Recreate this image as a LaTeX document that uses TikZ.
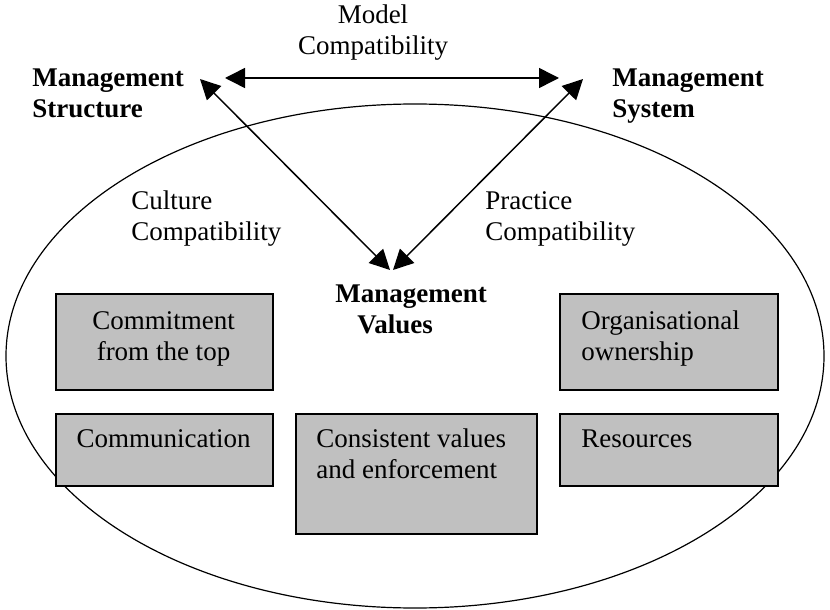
\documentclass[tikz,border=0pt]{standalone}
\usepackage{fontspec}
\setmainfont{Liberation Serif}
\usetikzlibrary{arrows.meta,shapes.geometric}
\definecolor{boxgray}{RGB}{192,192,192}
\begin{document}
\begin{tikzpicture}[x=0.5pt,y=-0.5pt,
  txt/.style={font=\fontsize{13.5}{15.5}\selectfont, inner sep=0pt, align=left},
  bold/.style={txt, font=\fontsize{13.5}{15.5}\selectfont\bfseries},
  card/.style={draw, line width=0.75pt, fill=boxgray, inner sep=0pt, anchor=north west},
  link/.style={line width=0.75pt, {Triangle[length=10pt,width=10pt]}-{Triangle[length=10pt,width=10pt]}},
]
\useasboundingbox (0,0) rectangle (830,610);

% outer ellipse holding the management values
\node[draw, ellipse, line width=0.6pt, minimum width=409pt, minimum height=252pt, inner sep=0pt] (scope) at (415,356) {};

% the three management corners (base anchor = last line)
\node[bold, anchor=base west] (struct) at (32,118) {Management\\Structure};
\node[bold, anchor=base west] (system) at (612,118) {Management\\System};
\node[bold, anchor=base west] (values) at (335,333) {Management\\\hspace*{11pt}Values};

% compatibility labels
\node[txt, align=center, anchor=base] (model) at (373,55) {Model\\Compatibility};
\node[txt, anchor=base west] (culture) at (131,240) {Culture\\Compatibility};
\node[txt, anchor=base west] (practice) at (485,240) {Practice\\Compatibility};

% grey boxes
\node[card, minimum width=108.5pt, minimum height=48pt] (commit) at (55,293) {};
\node[card, minimum width=108.5pt, minimum height=36pt] (comm) at (55,413) {};
\node[card, minimum width=120.5pt, minimum height=60pt] (consist) at (295,413) {};
\node[card, minimum width=109pt, minimum height=48pt] (owner) at (559,293) {};
\node[card, minimum width=109pt, minimum height=36pt] (res) at (559,413) {};

\node[txt, align=center, anchor=base] (commit-t) at (163.5,360) {Commitment\\from the top};
\node[txt, align=center, anchor=base] (comm-t) at (163.5,447) {Communication};
\node[txt, anchor=base west] (consist-t) at (316,478) {Consistent values\\and enforcement};
\node[txt, anchor=base west] (owner-t) at (581,360) {Organisational\\ownership};
\node[txt, anchor=base west] (res-t) at (581,447) {Resources};

% arrow end points
\coordinate (struct-h) at (225,78);
\coordinate (system-h) at (559,78);
\coordinate (struct-d) at (200,79);
\coordinate (system-d) at (583,79);
\coordinate (values-l) at (390,270);
\coordinate (values-r) at (393,270);

\draw[link] (struct-h) -- (system-h);
\draw[link] (values-l) -- (struct-d);
\draw[link] (values-r) -- (system-d);
\end{tikzpicture}
\end{document}
